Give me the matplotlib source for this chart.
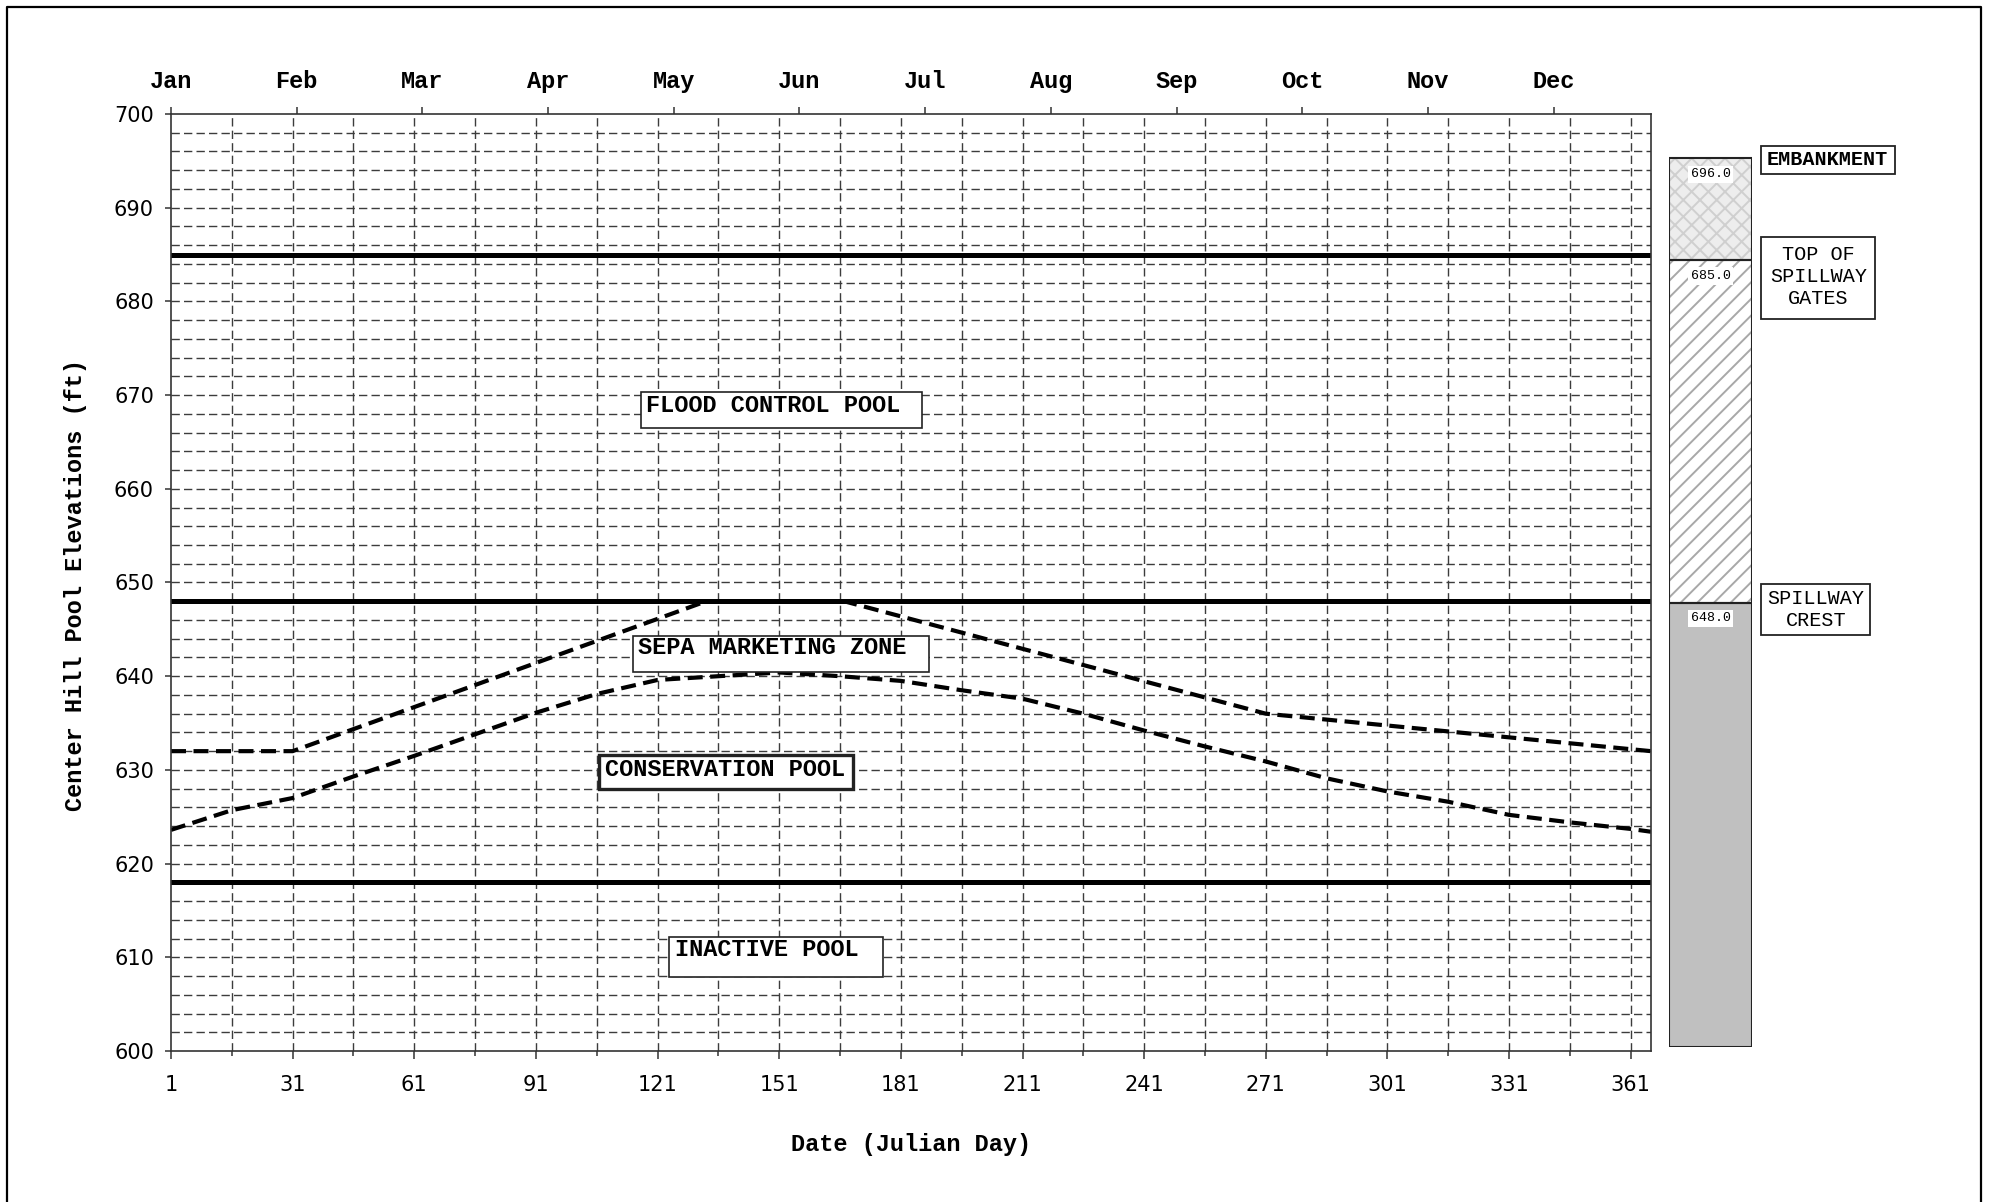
import matplotlib
matplotlib.use("Agg")
import matplotlib.pyplot as plt
from matplotlib.patches import Rectangle
from matplotlib.lines import Line2D

# ---------------------------------------------------------------------------
# Data
# ---------------------------------------------------------------------------
# Upper rule curve (top of SEPA marketing zone): Julian day / elevation (ft)
upper_days = [1, 31, 133, 167, 271, 366]
upper_elev = [632.0, 632.0, 648.0, 648.0, 636.0, 632.0]

# Lower rule curve (top of conservation pool)
lower_days = [1, 16, 31, 46, 61, 76, 91, 106, 121, 136, 151, 166, 181,
              196, 211, 226, 241, 256, 271, 286, 301, 316, 331, 346, 361, 366]
lower_elev = [623.6, 625.7, 627.0, 629.3, 631.5, 633.8, 636.1, 638.1, 639.6,
              640.0, 640.4, 640.0, 639.5, 638.5, 637.6, 636.0, 634.2, 632.5,
              630.9, 629.1, 627.7, 626.6, 625.2, 624.4, 623.7, 623.4]

# Pool boundaries drawn as heavy solid lines
pool_levels = [685.0, 648.0, 618.0]

# Zone labels inside the chart
zone_labels = ["FLOOD CONTROL POOL", "SEPA MARKETING ZONE",
               "CONSERVATION POOL", "INACTIVE POOL"]

# Axis ticks
day_ticks = [1, 31, 61, 91, 121, 151, 181, 211, 241, 271, 301, 331, 361]
day_minor = [16, 46, 76, 106, 136, 166, 196, 226, 256, 286, 316, 346]
elev_ticks = [600, 610, 620, 630, 640, 650, 660, 670, 680, 690, 700]
month_names = ["Jan", "Feb", "Mar", "Apr", "May", "Jun",
               "Jul", "Aug", "Sep", "Oct", "Nov", "Dec"]
month_days = [1, 32, 63, 94, 125, 156, 187, 218, 249, 280, 311, 342]

# Dam structure column: section bottoms / tops (ft)
struct_bottom = [600.0, 648.0, 685.0]
struct_top = [648.0, 685.0, 696.0]
struct_names = ["SPILLWAY\nCREST", "TOP OF\nSPILLWAY\nGATES", "EMBANKMENT"]

# ---------------------------------------------------------------------------
# Figure setup (layout in pixels)
# ---------------------------------------------------------------------------
W, H, DPI = 1989, 1202, 100
fig = plt.figure(figsize=(W / DPI, H / DPI), dpi=DPI, facecolor="white")

MONO = ["Liberation Mono", "DejaVu Sans Mono"]
SANS = ["DejaVu Sans"]
GRID = "#3c3c3c"


def fbox(x0, y0, x1, y1):
    """Pixel box (top-left origin) -> figure-fraction rect."""
    return [x0 / W, 1 - y1 / H, (x1 - x0) / W, (y1 - y0) / H]


# Outer frame (left, top, right)
fig.add_artist(Line2D([7 / W, 7 / W, 1981 / W, 1981 / W],
                      [0, 1 - 7 / H, 1 - 7 / H, 0],
                      transform=fig.transFigure, color="black", lw=1.6))

# ---------------------------------------------------------------------------
# Main chart
# ---------------------------------------------------------------------------
ax = fig.add_axes(fbox(171, 114, 1651, 1051))
ax.set_xlim(1, 366)
ax.set_ylim(600, 700)

# dashed grid: every 15 days, every 2 ft
for d in range(16, 366, 15):
    ax.axvline(d, color=GRID, lw=1.0, dashes=(6, 3), zorder=1)
for e in range(602, 700, 2):
    ax.axhline(e, color=GRID, lw=1.0, dashes=(6, 3), zorder=1)

# rule curves
ax.plot(upper_days, upper_elev, color="black", lw=3.0, dashes=(3.6, 1.8),
        zorder=3)
ax.plot(lower_days, lower_elev, color="black", lw=3.0, dashes=(3.6, 1.8),
        zorder=3)

# pool limits
for lvl in pool_levels:
    ax.axhline(lvl, color="black", lw=3.6, zorder=4)

# zone label boxes: (x0, x1, y0, y1) in data, text anchor (x, y), edge width
zone_boxes = [
    (116.8, 186.1, 666.46, 670.36, 118.1, 668.9, 1.2),
    (115.0, 188.0, 640.48, 644.32, 116.2, 643.1, 1.2),
    (106.6, 169.1, 627.93, 631.59, 108.0, 630.0, 2.4),
    (123.9, 176.5, 607.87, 612.20, 125.3, 610.8, 1.2),
]
for label, (x0, x1, y0, y1, tx, ty, lw) in zip(zone_labels, zone_boxes):
    ax.add_patch(Rectangle((x0, y0), x1 - x0, y1 - y0, facecolor="white",
                           edgecolor="#222222", lw=lw, zorder=5))
    ax.text(tx, ty, label, ha="left", va="center", fontsize=17,
            family=MONO, weight="bold", zorder=6)

# axes styling
for sp in ax.spines.values():
    sp.set_color("#333333")
    sp.set_linewidth(1.2)
    sp.set_zorder(6)

ax.set_xticks(day_ticks)
ax.set_xticklabels([str(d) for d in day_ticks])
ax.set_xticks(day_minor, minor=True)
ax.set_yticks(elev_ticks)
ax.set_yticklabels([str(e) for e in elev_ticks])
ax.tick_params(axis="x", which="major", direction="out", length=5.8,
               width=1.1, pad=11.5, labelsize=15, color="#333333")
ax.tick_params(axis="x", which="minor", direction="out", length=3.6,
               width=1.1, color="#333333")
ax.tick_params(axis="y", which="major", direction="out", length=4.3,
               width=1.1, pad=8, labelsize=15, color="#333333")
for t in ax.get_xticklabels() + ax.get_yticklabels():
    t.set_family(SANS)

# month axis on top
ax_top = ax.twiny()
ax_top.set_xlim(ax.get_xlim())
ax_top.set_xticks(month_days)
ax_top.set_xticklabels(month_names)
ax_top.tick_params(axis="x", direction="out", length=5, width=1.1,
                   pad=10, labelsize=17, color="#333333")
for t in ax_top.get_xticklabels():
    t.set_family(MONO)
    t.set_weight("bold")
for sp in ax_top.spines.values():
    sp.set_visible(False)

fig.text(911 / W, 1 - 1145 / H, "Date (Julian Day)", ha="center",
         va="center", fontsize=17, family=MONO, weight="bold")
fig.text(76 / W, 1 - 585 / H, "Center Hill Pool Elevations (ft)",
         ha="center", va="center", rotation=90, fontsize=17, family=MONO,
         weight="bold")

# ---------------------------------------------------------------------------
# Dam structure column
# ---------------------------------------------------------------------------
plt.rcParams["hatch.linewidth"] = 1.4
axs = fig.add_axes(fbox(1669, 121.2, 1752, 1046.8))
axs.set_xlim(0, 1)
axs.set_ylim(600, 700)
axs.axis("off")

faces = ["#c0c0c0", "white", "#ededed"]
hatches = [None, "//", "xx"]
hatch_cols = ["#c0c0c0", "#a8a8a8", "#cfcfcf"]
for b, t, fc, hc, hcol in zip(struct_bottom, struct_top, faces, hatches,
                              hatch_cols):
    axs.add_patch(Rectangle((0, b), 1, t - b, facecolor=fc, edgecolor=hcol,
                            hatch=hc, lw=0, zorder=1))
    axs.add_patch(Rectangle((0, b), 1, t - b, fill=False,
                            edgecolor="#222222", lw=1.5, zorder=3))
    axs.annotate(f"{t:.1f}", xy=(0.5, t), xycoords="data",
                 xytext=(0, -11.5), textcoords="offset points",
                 ha="center", va="center", fontsize=9.5, family=MONO,
                 zorder=4,
                 bbox=dict(boxstyle="square,pad=0.2", facecolor="white",
                           edgecolor="none"))

# structure labels to the right of the column: box (px) and text centre (px)
struct_boxes = [
    ((1761.4, 584.3, 1870.2, 635.4), (1815.8, 609.0), "normal"),
    ((1761.4, 236.8, 1875.3, 318.6), (1818.6, 276.0), "normal"),
    ((1761.4, 145.7, 1894.9, 174.3), (1827.6, 159.5), "bold"),
]
for name, ((x0, y0, x1, y1), (tx, ty), wt) in zip(struct_names, struct_boxes):
    fig.add_artist(Rectangle((x0 / W, 1 - y1 / H), (x1 - x0) / W,
                             (y1 - y0) / H, transform=fig.transFigure,
                             facecolor="white", edgecolor="#222222", lw=1.3))
    fig.text(tx / W, 1 - ty / H, name, ha="center", va="center",
             fontsize=14.5, family=MONO, weight=wt, linespacing=1.2,
             multialignment="center")

fig.savefig("out.png", dpi=DPI, facecolor="white")
